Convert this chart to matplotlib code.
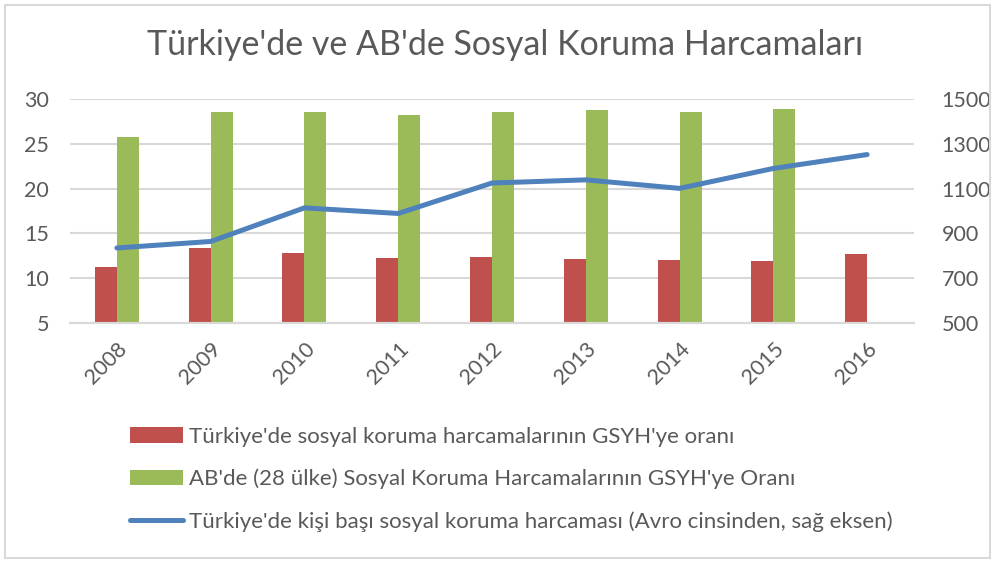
import numpy as np
import matplotlib.pyplot as plt
from matplotlib.patches import Rectangle

years = ["2008", "2009", "2010", "2011", "2012", "2013", "2014", "2015", "2016"]
tr_gdp_share = [11.3, 13.4, 12.8, 12.2, 12.4, 12.1, 12.0, 11.9, 12.7]
eu_gdp_share = [25.8, 28.6, 28.5, 28.2, 28.6, 28.8, 28.6, 28.9, np.nan]
tr_per_capita = [835, 864, 1014, 989, 1125, 1139, 1101, 1190, 1252]

label_tr = "Türkiye'de sosyal koruma harcamalarının GSYH'ye oranı"
label_eu = "AB'de (28 ülke) Sosyal Koruma Harcamalarının GSYH'ye Oranı"
label_pc = "Türkiye'de kişi başı sosyal koruma harcaması (Avro cinsinden, sağ eksen)"

plt.rcParams['font.family'] = ['Lato', 'DejaVu Sans']
txt = '#595959'
grid_c = '#D9D9D9'

fig = plt.figure(figsize=(9.94, 5.63), dpi=100)
fig.patches.append(Rectangle((5 / 994, 5 / 563), 985 / 994, 553 / 563,
                             transform=fig.transFigure, fill=False,
                             edgecolor=grid_c, linewidth=1.5))

ax = fig.add_axes([70 / 994, 240 / 563, 844 / 994, 224 / 563])
x = np.arange(len(years))
w = 0.235
b1 = ax.bar(x - w / 2, tr_gdp_share, w, color='#C0504D', label=label_tr, zorder=2)
b2 = ax.bar(x + w / 2, eu_gdp_share, w, color='#9BBB59', label=label_eu, zorder=2)
ax.set_ylim(5, 30)
ax.set_yticks(range(5, 31, 5))
ax.set_xlim(-0.5, len(years) - 0.5)
ax.set_xticks(x)
ax.set_xticklabels(years, rotation=45, ha='right', rotation_mode='anchor')
ax.grid(axis='y', color=grid_c, linewidth=1.5, zorder=0)
ax.set_axisbelow(True)

ax2 = ax.twinx()
l1, = ax2.plot(x, tr_per_capita, color='#4F81BD', linewidth=3.6,
               solid_capstyle='round', label=label_pc, zorder=3)
ax2.set_ylim(500, 1500)
ax2.set_yticks(range(500, 1501, 200))

for a in (ax, ax2):
    for s in ('top', 'left', 'right'):
        a.spines[s].set_visible(False)
    a.spines['bottom'].set_color(grid_c)
    a.spines['bottom'].set_linewidth(1.5)
    a.tick_params(length=0, labelsize=15.5, labelcolor=txt)
ax.tick_params(axis='y', pad=15)
ax2.tick_params(axis='y', pad=20)
ax.tick_params(axis='x', pad=11)

fig.text(505 / 994, 1 - 45 / 563, "Türkiye'de ve AB'de Sosyal Koruma Harcamaları",
         ha='center', va='center', fontsize=24.5, color=txt)

fig.legend(handles=[b1, b2, l1], loc='upper left',
           bbox_to_anchor=(110 / 994, 1 - 407 / 563), frameon=False,
           fontsize=16, labelcolor=txt, labelspacing=0.98,
           handlelength=2.4, handleheight=0.7, handletextpad=0.25)

fig.savefig('out.png', dpi=100)
